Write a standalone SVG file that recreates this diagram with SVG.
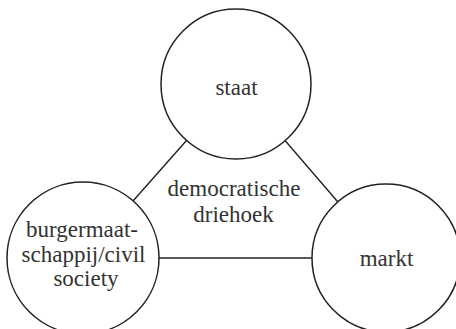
<svg xmlns="http://www.w3.org/2000/svg" width="456" height="329" viewBox="0 0 456 329" font-family="'Liberation Serif', 'Times New Roman', serif">
<rect width="456" height="329" fill="#fff"/>
<g id="connectors" stroke="#222" stroke-width="1.4">
<line x1="186.5" y1="140.5" x2="133" y2="201"/>
<line x1="285" y1="140.5" x2="337.5" y2="201.5"/>
<line x1="159" y1="258" x2="312" y2="258"/>
</g>
<g id="staat">
<circle cx="236" cy="84" r="75" fill="#fff" stroke="#222" stroke-width="1.5"/>
<text x="236.5" y="95" style="font-family:'Liberation Serif','Times New Roman',serif;font-size:23px;fill:#333;text-anchor:middle">staat</text>
</g>
<g id="burgermaatschappij">
<circle cx="83" cy="258" r="76" fill="#fff" stroke="#222" stroke-width="1.5"/>
<text x="82" y="237" style="font-family:'Liberation Serif','Times New Roman',serif;font-size:23px;fill:#333;text-anchor:middle">burgermaat-</text>
<text x="83.5" y="261.5" style="font-family:'Liberation Serif','Times New Roman',serif;font-size:23px;fill:#333;text-anchor:middle">schappij/civil</text>
<text x="86" y="286" style="font-family:'Liberation Serif','Times New Roman',serif;font-size:23px;fill:#333;text-anchor:middle">society</text>
</g>
<g id="markt">
<circle cx="386" cy="258" r="74" fill="#fff" stroke="#222" stroke-width="1.5"/>
<text x="386.5" y="266" style="font-family:'Liberation Serif','Times New Roman',serif;font-size:23px;fill:#333;text-anchor:middle">markt</text>
</g>
<g id="driehoek">
<text x="234" y="196" style="font-family:'Liberation Serif','Times New Roman',serif;font-size:23px;fill:#333;text-anchor:middle">democratische</text>
<text x="233.5" y="221.5" style="font-family:'Liberation Serif','Times New Roman',serif;font-size:23px;fill:#333;text-anchor:middle">driehoek</text>
</g>
</svg>
